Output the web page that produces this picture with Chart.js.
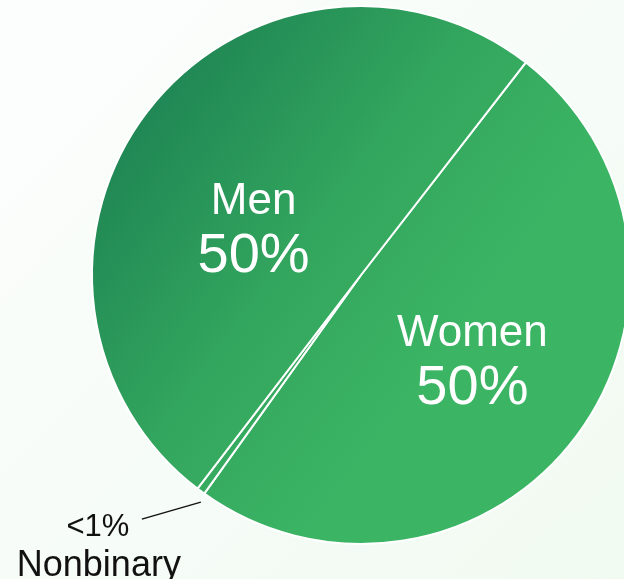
<!DOCTYPE html>
<html lang="en">
<head>
    <meta charset="UTF-8">
    <title>Gender split</title>
    <script src="https://cdn.jsdelivr.net/npm/chart.js"></script>
    <style>
        html, body {
            margin: 0;
            padding: 0;
            width: 624px;
            height: 579px;
            overflow: hidden;
            background: linear-gradient(135deg, #fcfefd 0%, #f6fcf7 55%, #f1faf1 100%);
        }
        #wrap {
            position: absolute;
            left: 0;
            top: 0;
            width: 640px;
            height: 579px;
        }
    </style>
</head>
<body>
    <div id="wrap">
        <canvas id="pie" width="640" height="579"></canvas>
    </div>

    <script>
        // --- data ---
        const categories = ['Women', 'Nonbinary', 'Men'];
        const shares = [49.4, 0.5, 50.1];
        const shareLabels = ['50%', '<1%', '50%'];

        // where each label sits: fraction of radius along the slice middle, plus a small turn (deg)
        const inside = {
            Women: { frac: 0.52, turn: 0.5 },
            Men: { frac: 0.436, turn: -13.9 }
        };

        const font = "'Liberation Sans', Arial, sans-serif";

        // green wash across the whole pie, dark top-left to light right
        function sliceFill(ctx) {
            const c = ctx.chart.ctx;
            const g = c.createLinearGradient(150, 90, 470, 330);
            g.addColorStop(0, '#1f8654');
            g.addColorStop(0.55, '#33a65e');
            g.addColorStop(1, '#3bb564');
            return g;
        }

        const labelPlugin = {
            id: 'sliceLabels',
            afterDatasetsDraw(chart) {
                const ctx = chart.ctx;
                const arcs = chart.getDatasetMeta(0).data;
                ctx.save();
                arcs.forEach((arc, i) => {
                    const p = arc.getProps(['x', 'y', 'startAngle', 'endAngle', 'outerRadius'], true);
                    const mid = (p.startAngle + p.endAngle) / 2;
                    const name = categories[i];
                    if (inside[name]) {
                        const a = mid + inside[name].turn * Math.PI / 180;
                        const r = p.outerRadius * inside[name].frac;
                        const cx = p.x + Math.cos(a) * r;
                        const cy = p.y + Math.sin(a) * r;
                        ctx.fillStyle = '#ffffff';
                        ctx.textAlign = 'center';
                        ctx.textBaseline = 'alphabetic';
                        ctx.font = '44px ' + font;
                        ctx.fillText(name, cx, cy - 14);
                        ctx.font = '56px ' + font;
                        ctx.fillText(shareLabels[i], cx, cy + 44);
                    } else {
                        // small slice: leader line out to the lower left
                        const sx = p.x + Math.cos(mid) * p.outerRadius;
                        const sy = p.y + Math.sin(mid) * p.outerRadius + 11;
                        const ex = sx - 59;
                        const ey = sy + 17;
                        ctx.strokeStyle = '#111111';
                        ctx.lineWidth = 1.5;
                        ctx.beginPath();
                        ctx.moveTo(sx, sy);
                        ctx.lineTo(ex, ey);
                        ctx.stroke();
                        ctx.fillStyle = '#111111';
                        ctx.textAlign = 'center';
                        ctx.font = '31px ' + font;
                        ctx.fillText(shareLabels[i], ex - 44, ey + 17);
                        ctx.font = '36px ' + font;
                        ctx.fillText(name, ex - 43, ey + 57);
                    }
                });
                ctx.restore();
            }
        };

        new Chart(document.getElementById('pie'), {
            type: 'pie',
            data: {
                labels: categories,
                datasets: [{
                    data: shares,
                    backgroundColor: sliceFill,
                    borderColor: '#ffffff',
                    borderWidth: 2
                }]
            },
            options: {
                responsive: false,
                animation: false,
                rotation: 37.8,
                layout: {
                    padding: { left: 91, right: 9, top: 5, bottom: 34 }
                },
                plugins: {
                    legend: { display: false },
                    tooltip: { enabled: false }
                }
            },
            plugins: [labelPlugin]
        });
    </script>
</body>
</html>
